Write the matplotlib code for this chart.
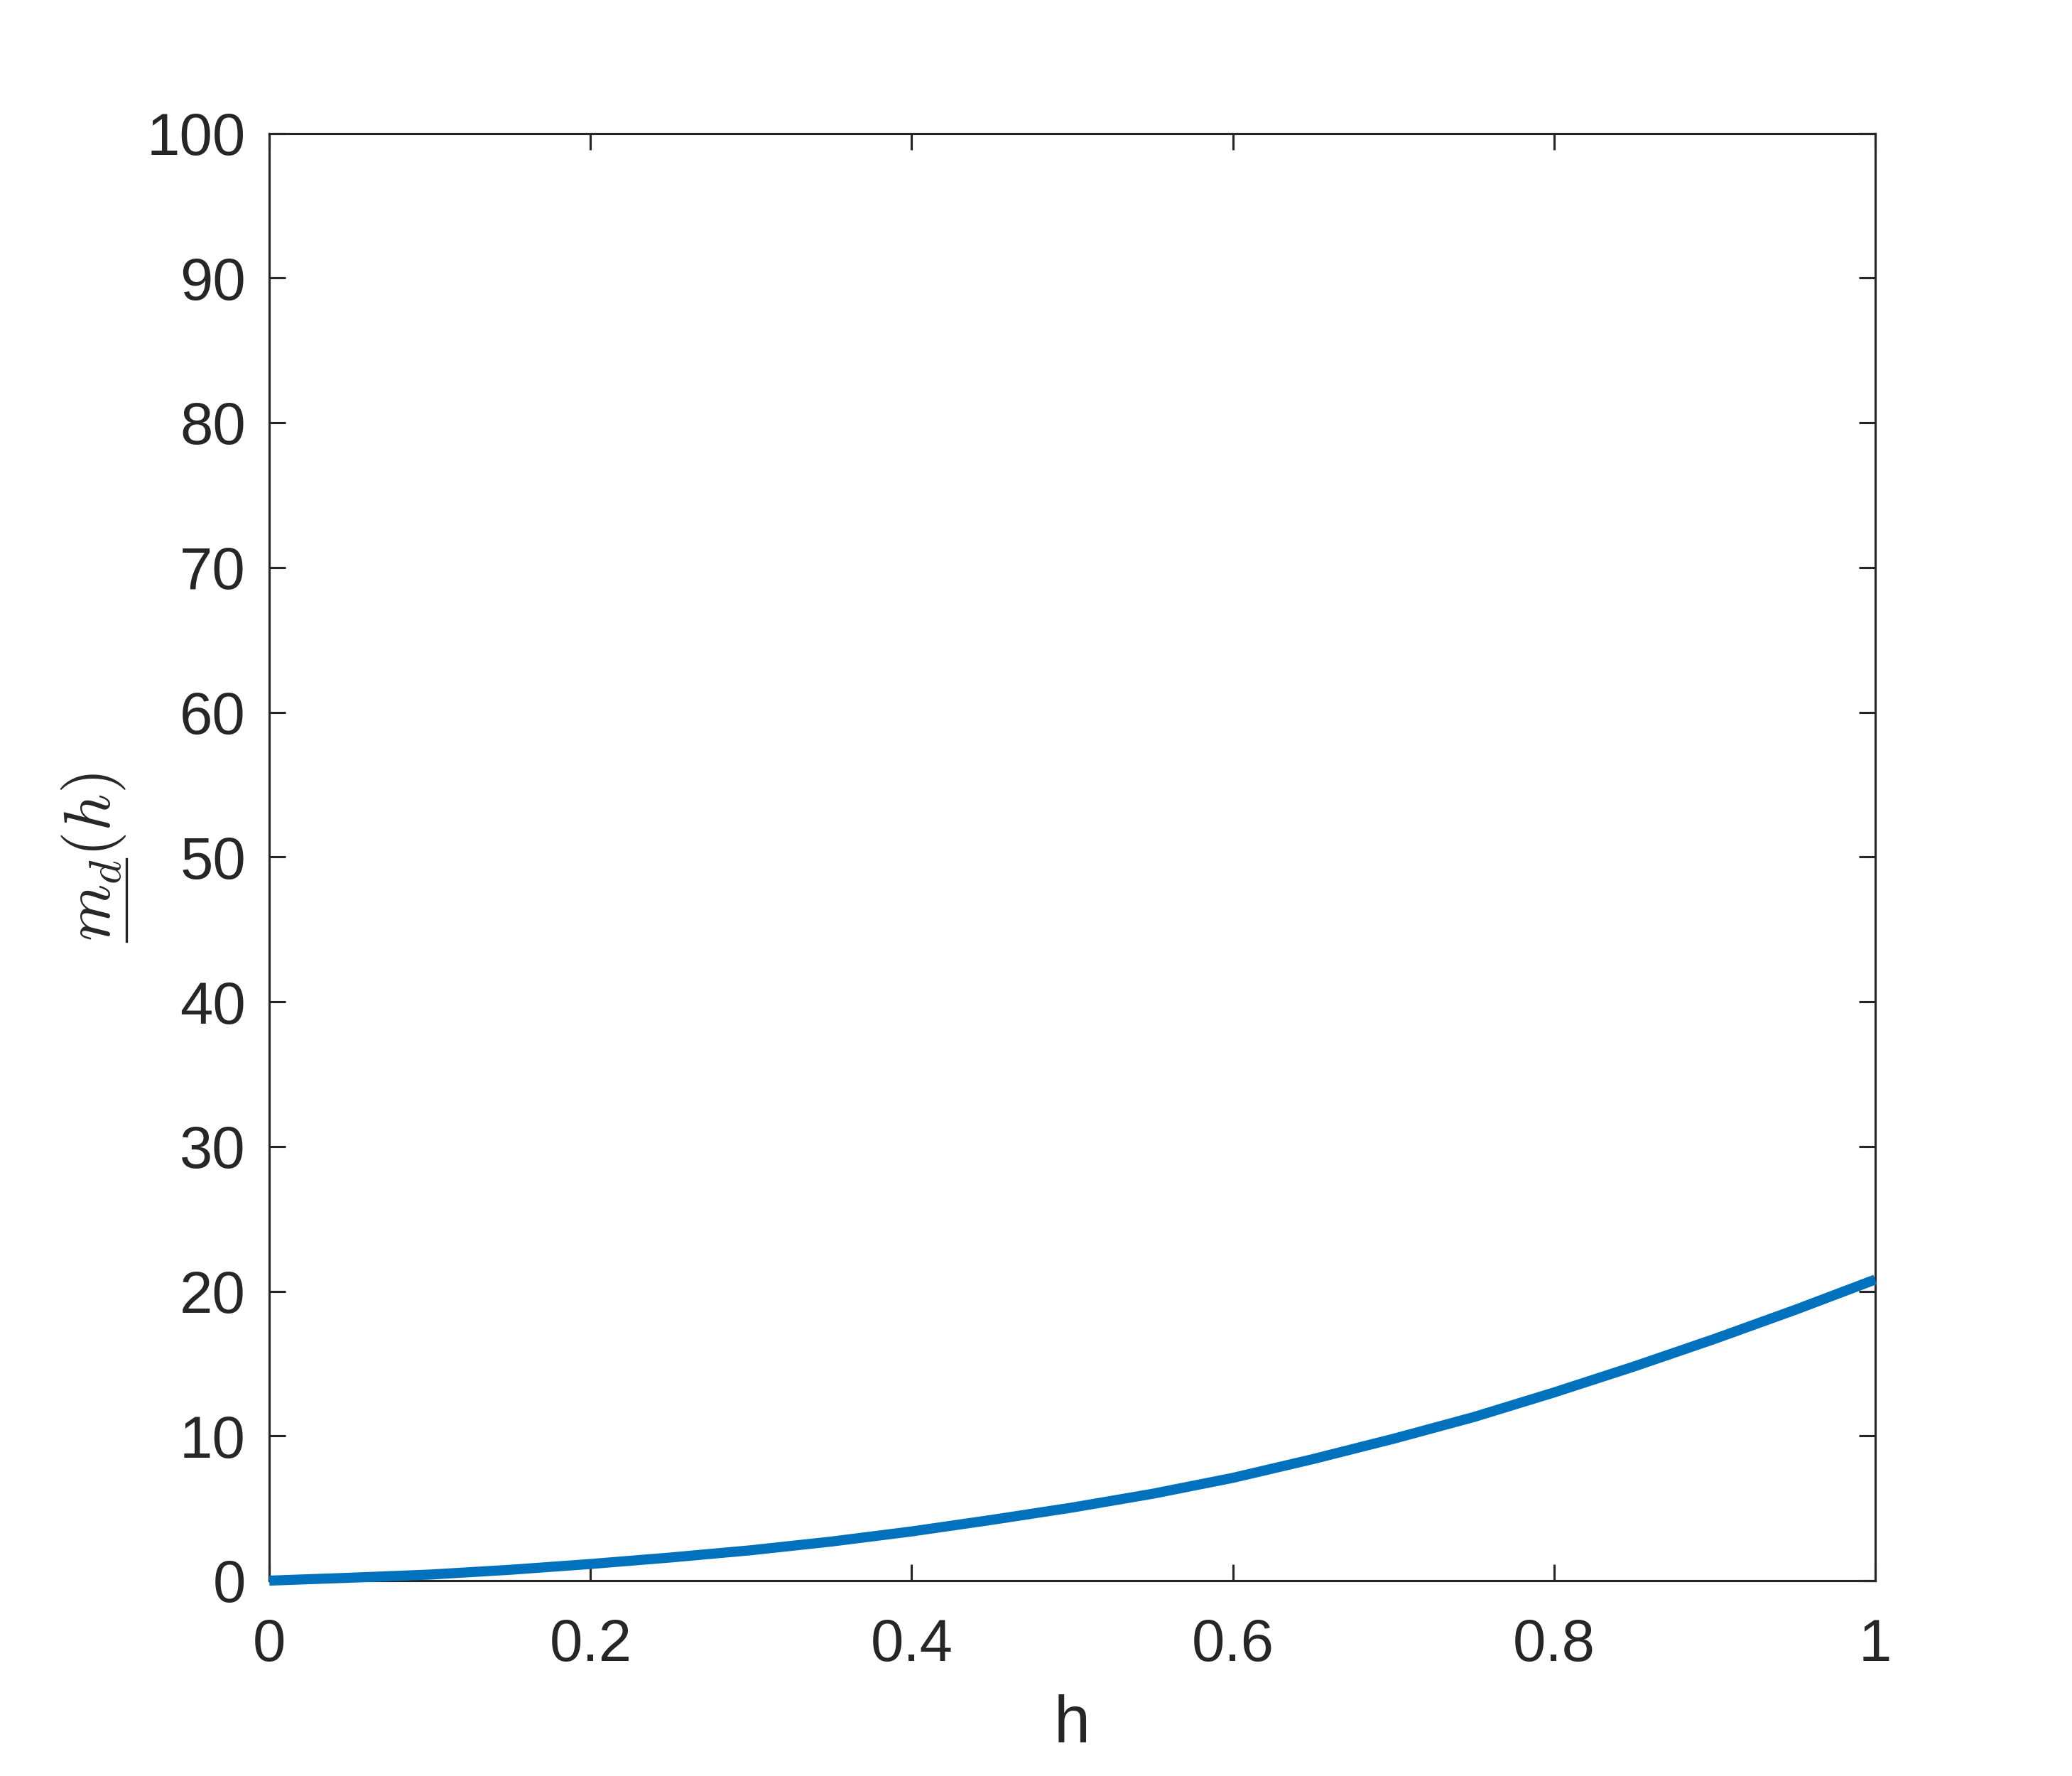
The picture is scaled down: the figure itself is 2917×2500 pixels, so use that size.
import numpy as np
import matplotlib.pyplot as plt
from matplotlib.lines import Line2D

# ---------------------------------------
# Values
# ---------------------------------------

h = [0.0, 0.05, 0.1, 0.15, 0.2, 0.25, 0.3, 0.35, 0.4, 0.45, 0.5,
     0.55, 0.6, 0.65, 0.7, 0.75, 0.8, 0.85, 0.9, 0.95, 1.0]
m_d = [0.0, 0.2, 0.42, 0.75, 1.15, 1.6, 2.1, 2.7, 3.4, 4.2, 5.05,
       6.0, 7.1, 8.4, 9.8, 11.3, 13.0, 14.8, 16.7, 18.7, 20.8]

x_ticks = [0, 0.2, 0.4, 0.6, 0.8, 1]
x_ticklabels = ["0", "0.2", "0.4", "0.6", "0.8", "1"]
y_ticks = list(range(0, 101, 10))

# ---------------------------------------
# Plot
# ---------------------------------------

plt.rcParams["font.family"] = ["Liberation Sans", "DejaVu Sans"]
plt.rcParams["mathtext.fontset"] = "cm"

dark = "#262626"

fig = plt.figure(figsize=(2917 / 300, 2500 / 300), dpi=300)
ax = fig.add_axes([0.13, 0.11, 0.775, 0.815])

ax.plot(h, m_d, color="#0072BD", linewidth=3.4, solid_capstyle="butt",
        solid_joinstyle="round", clip_on=False, zorder=3)

ax.set_xlim(0, 1)
ax.set_ylim(0, 100)
ax.set_xticks(x_ticks)
ax.set_xticklabels(x_ticklabels)
ax.set_yticks(y_ticks)

ax.tick_params(direction="in", length=5.5, width=0.75, colors=dark,
               labelsize=20, top=True, right=True, pad=8)
ax.tick_params(axis="x", pad=12.5)
for s in ax.spines.values():
    s.set_color(dark)
    s.set_linewidth(0.75)

ax.set_xlabel("h", fontsize=22, color=dark, labelpad=7)
ylab = ax.set_ylabel(r"$m_d(h)$", fontsize=22, color=dark, labelpad=6.5)

# mathtext has no \underline, so draw the bar under m_d by hand
fig.canvas.draw()
r = fig.canvas.get_renderer()
bb = ylab.get_window_extent(r)
tmp = fig.text(0, 0, r"$m_d$", fontsize=22)
w_md = tmp.get_window_extent(r).width
tmp.remove()
W, H = fig.bbox.width, fig.bbox.height
xu = bb.x1 - 2
fig.add_artist(Line2D([xu / W, xu / W], [bb.y0 / H, (bb.y0 + w_md) / H],
                      transform=fig.transFigure, color=dark, linewidth=0.8))

fig.savefig("out.png", dpi=300)
